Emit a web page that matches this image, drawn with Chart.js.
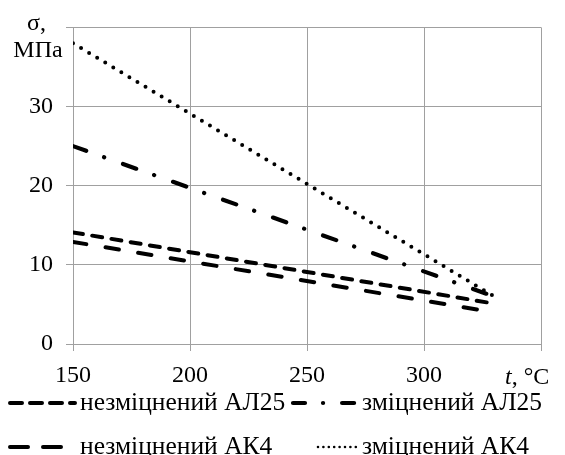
<!DOCTYPE html>
<html>
<head>
<meta charset="utf-8">
<script src="https://cdn.jsdelivr.net/npm/chart.js@4/dist/chart.umd.min.js"></script>
<style>
  body { margin: 0; background: #fff; }
  #wrap { width: 565px; height: 455px; position: relative; }
</style>
</head>
<body>
<div id="wrap"><canvas id="lineChart"></canvas></div>
<script>
// temperature, °C
const temps = [150, 330];
// stress, MPa
const unstrAL25 = [14.1, 5.1];
const strAL25 = [25.0, 6.0];
const unstrAK4 = [12.9, 4.0];
const strAK4 = [38.0, 6.0];

const seriesNames = ['незміцнений АЛ25', 'зміцнений АЛ25', 'незміцнений АК4', 'зміцнений АК4'];
const xTicks = [150, 200, 250, 300];
const yTicks = [0, 10, 20, 30];

const fontFam = '"Liberation Serif", "Times New Roman", serif';

const toPoints = (arr) => temps.map((t, i) => ({ x: t, y: arr[i] }));

// chart line styles + the little samples in legend
const styles = [
  { dash: [10, 9.5], width: 4, legendDash: [12, 8] },
  { dash: [14, 19, 0.1, 20], width: 4.2, legendDash: [12, 18, 0.1, 19] },
  { dash: [13.5, 19.5], width: 4, legendDash: [18, 15] },
  { dash: [0, 9.4], width: 4, legendDash: [0, 5.4] }
];
const seriesData = [unstrAL25, strAL25, unstrAK4, strAK4];

const datasets = seriesData.map((arr, i) => ({
  label: seriesNames[i],
  data: toPoints(arr),
  borderColor: '#000',
  borderWidth: styles[i].width,
  borderDash: styles[i].dash,
  borderCapStyle: 'round',
  pointRadius: 0,
  tension: 0,
  fill: false
}));

const extraText = {
  id: 'extraText',
  afterDraw(chart) {
    const ctx = chart.ctx;
    ctx.save();
    ctx.fillStyle = '#000';
    ctx.textBaseline = 'alphabetic';
    ctx.font = '24px ' + fontFam;
    ctx.textAlign = 'left';
    ctx.fillText('σ,', 27, 30);
    ctx.textAlign = 'center';
    ctx.fillText('МПа', 38, 57);

    ctx.textAlign = 'left';
    ctx.font = 'italic 24px ' + fontFam;
    ctx.fillText('t', 505, 384);
    const tw = ctx.measureText('t').width;
    ctx.font = '24px ' + fontFam;
    ctx.fillText(', °C', 505 + tw, 384);

    // legend, 2 x 2 like excel
    ctx.font = '25.5px ' + fontFam;
    const cols = [{ x0: 10, x1: 75, tx: 80 }, { x0: 293, x1: 358, tx: 362 }];
    const rows = [403, 447];
    seriesNames.forEach((name, i) => {
      const c = cols[i % 2];
      const y = rows[Math.floor(i / 2)];
      const st = styles[i];
      ctx.beginPath();
      ctx.strokeStyle = '#000';
      ctx.lineCap = 'round';
      ctx.lineWidth = i === 3 ? 2.6 : st.width;
      ctx.setLineDash(st.legendDash);
      ctx.moveTo(i === 3 ? c.x0 + 25 : c.x0, y);
      ctx.lineTo(c.x1, y);
      ctx.stroke();
      ctx.setLineDash([]);
      ctx.textAlign = 'left';
      ctx.textBaseline = 'middle';
      ctx.fillText(name, c.tx, y);
    });
    ctx.restore();
  }
};

new Chart(document.getElementById('lineChart'), {
  type: 'line',
  data: { datasets },
  options: {
    responsive: true,
    maintainAspectRatio: false,
    animation: false,
    layout: { padding: { top: 20, right: 24, left: 0, bottom: 0 } },
    plugins: { legend: { display: false }, tooltip: { enabled: false } },
    scales: {
      x: {
        type: 'linear',
        min: 150,
        max: 350,
        afterFit: (scale) => { scale.height = 111; },
        afterBuildTicks: (scale) => { scale.ticks = xTicks.concat([350]).map(v => ({ value: v })); },
        ticks: {
          color: '#000',
          font: { family: fontFam, size: 24 },
          padding: 10,
          maxRotation: 0,
          callback: (v) => xTicks.includes(v) ? String(v) : ''
        },
        grid: { color: '#a0a0a0', lineWidth: 1, tickLength: 7, tickColor: '#a0a0a0' },
        border: { color: '#a0a0a0', width: 1 }
      },
      y: {
        min: 0,
        max: 40,
        afterFit: (scale) => { scale.width = 73; },
        afterBuildTicks: (scale) => { scale.ticks = yTicks.concat([40]).map(v => ({ value: v })); },
        ticks: {
          color: '#000',
          font: { family: fontFam, size: 24 },
          padding: 13,
          callback: (v) => yTicks.includes(v) ? String(v) : ''
        },
        grid: { color: '#a0a0a0', lineWidth: 1, tickLength: 7, tickColor: '#a0a0a0' },
        border: { color: '#a0a0a0', width: 1 }
      }
    }
  },
  plugins: [extraText]
});
</script>
</body>
</html>
